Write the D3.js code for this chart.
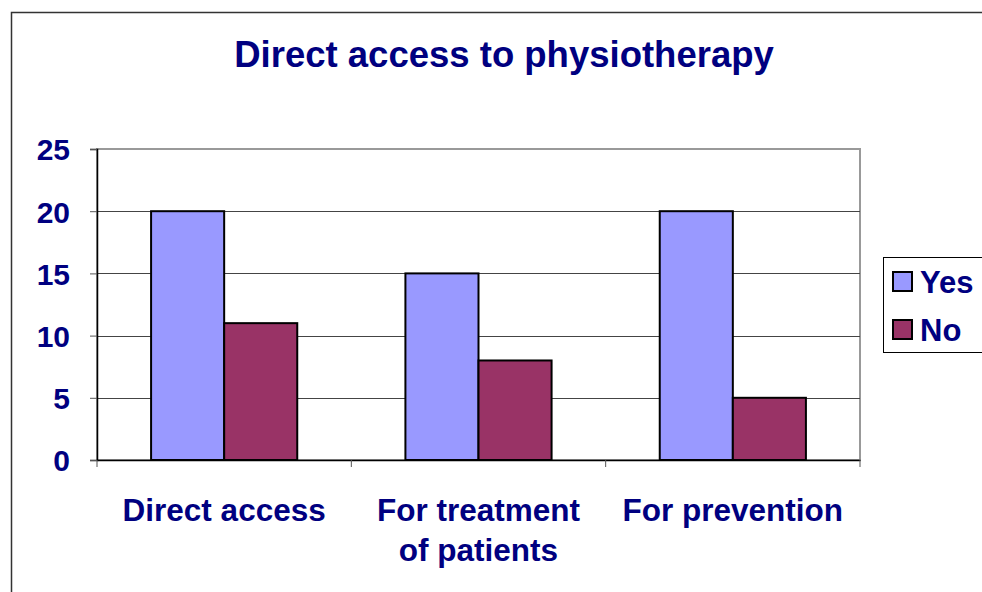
<!DOCTYPE html>
<html>
<head>
<meta charset="utf-8">
<script src="https://cdn.jsdelivr.net/npm/d3@7"></script>
<style>
  body { margin: 0; background: #fff; }
  text { font-family: "Liberation Sans", Arial, sans-serif; font-weight: bold; fill: #000080; }
</style>
</head>
<body>
<svg id="chart"></svg>
<script>
// Data
const categories = [["Direct access"], ["For treatment", "of patients"], ["For prevention"]];
const seriesNames = ["Yes", "No"];
const yesValues = [20, 15, 20];
const noValues = [11, 8, 5];
const yTicks = [0, 5, 10, 15, 20, 25];

const colors = { Yes: "#9999ff", No: "#993366" };

const svgWidth = 982, svgHeight = 592;
const plot = { left: 97, top: 149, right: 860, bottom: 460 };

const svg = d3.select("#chart")
    .attr("width", svgWidth)
    .attr("height", svgHeight);

// outer chart frame (runs off the right and bottom edges)
svg.append("rect")
    .attr("x", 11.5).attr("y", 12.5)
    .attr("width", 1000).attr("height", 700)
    .attr("fill", "none").attr("stroke", "#333").attr("stroke-width", 1.5);

const x0 = d3.scaleBand()
    .domain(d3.range(categories.length))
    .range([plot.left, plot.right])
    .paddingInner(0).paddingOuter(0);

const x1 = d3.scaleBand()
    .domain(seriesNames)
    .range([0, x0.bandwidth()])
    .paddingInner(0)
    .paddingOuter(0.74);

const y = d3.scaleLinear().domain([0, 25]).range([plot.bottom, plot.top]);

// plot area border (gray)
svg.append("rect")
    .attr("x", plot.left).attr("y", plot.top)
    .attr("width", plot.right - plot.left).attr("height", plot.bottom - plot.top)
    .attr("fill", "none").attr("stroke", "#999").attr("stroke-width", 2);

// gridlines
svg.append("g")
    .selectAll("line")
    .data(yTicks.filter(d => d > 0 && d < 25))
    .enter().append("line")
    .attr("x1", plot.left).attr("x2", plot.right)
    .attr("y1", d => Math.round(y(d)) + 0.5).attr("y2", d => Math.round(y(d)) + 0.5)
    .attr("stroke", "#444").attr("stroke-width", 1);

// y axis
const yAxis = d3.axisLeft(y).tickValues(yTicks).tickSize(7).tickPadding(20);
const gy = svg.append("g")
    .attr("transform", `translate(${plot.left},0)`)
    .call(yAxis);
gy.select(".domain").attr("stroke", "#000").attr("stroke-width", 1.5);
gy.selectAll(".tick line").attr("stroke", "#555");
gy.selectAll(".tick text")
    .style("font-size", "30px")
    .attr("dy", "0.36em")
    .attr("fill", "#000080");

// x axis
const xAxis = d3.axisBottom(x0).tickSize(0).tickFormat("");
const gx = svg.append("g")
    .attr("transform", `translate(0,${plot.bottom})`)
    .call(xAxis);
gx.select(".domain").attr("stroke", "#000").attr("stroke-width", 1.5);
svg.append("g").selectAll("line")
    .data(d3.range(categories.length + 1))
    .enter().append("line")
    .attr("x1", d => plot.left + d * x0.bandwidth())
    .attr("x2", d => plot.left + d * x0.bandwidth())
    .attr("y1", plot.bottom).attr("y2", plot.bottom + 7)
    .attr("stroke", "#555");

// category labels
const labels = svg.append("g").selectAll("text")
    .data(categories)
    .enter().append("text")
    .attr("x", (d, i) => x0(i) + x0.bandwidth() / 2)
    .attr("y", 521)
    .attr("text-anchor", "middle")
    .style("font-size", "31.5px");
labels.selectAll("tspan")
    .data(d => d)
    .enter().append("tspan")
    .attr("x", function () { return this.parentNode.getAttribute("x"); })
    .attr("dy", (d, i) => i === 0 ? 0 : 40)
    .text(d => d);

// bars
const rows = categories.map((c, i) => ({ i, Yes: yesValues[i], No: noValues[i] }));
svg.append("g").selectAll("g")
    .data(rows)
    .enter().append("g")
    .attr("transform", d => `translate(${x0(d.i)},0)`)
    .selectAll("rect")
    .data(d => seriesNames.map(k => ({ key: k, value: d[k] })))
    .enter().append("rect")
    .attr("x", d => x1(d.key))
    .attr("y", d => y(d.value))
    .attr("width", x1.bandwidth())
    .attr("height", d => y(0) - y(d.value))
    .attr("fill", d => colors[d.key])
    .attr("stroke", "#000").attr("stroke-width", 2);

// title
svg.append("text")
    .attr("x", 504).attr("y", 67)
    .attr("text-anchor", "middle")
    .style("font-size", "36.5px")
    .text("Direct access to physiotherapy");

// legend
const legend = svg.append("g");
legend.append("rect")
    .attr("x", 883.5).attr("y", 257.5)
    .attr("width", 120).attr("height", 95)
    .attr("fill", "#fff").attr("stroke", "#000").attr("stroke-width", 1);
const items = legend.selectAll("g.item")
    .data(seriesNames)
    .enter().append("g")
    .attr("transform", (d, i) => `translate(893,${272 + i * 48})`);
items.append("rect")
    .attr("width", 19).attr("height", 19)
    .attr("fill", d => colors[d])
    .attr("stroke", "#000").attr("stroke-width", 2);
items.append("text")
    .attr("x", 27).attr("y", 21)
    .style("font-size", "31px")
    .text(d => d);
</script>
</body>
</html>
